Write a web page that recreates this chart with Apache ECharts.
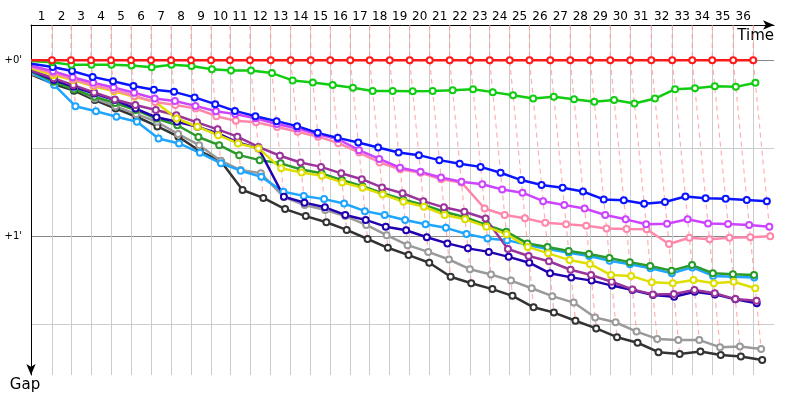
<!DOCTYPE html>
<html>
<head>
<meta charset="utf-8">
<script src="https://cdn.jsdelivr.net/npm/echarts@6/dist/echarts.min.js"></script>
<style>
  html, body { margin: 0; padding: 0; background: #fff; }
  #chart { width: 800px; height: 400px; }
</style>
</head>
<body>
<div id="chart"></div>
<script>
// leader lap times, seconds
var leaderLapTimes = [74.1, 67.1, 70.6, 70.6, 70.6, 70.6, 70.6, 70.6, 70.6, 67.1, 70.6, 73.1,
  70.6, 70.6, 69.2, 70.6, 68.5, 70.6, 70.6, 70.6, 70.6, 72.7, 68.5, 70.6,
  69.9, 73.4, 70.6, 70.6, 70.6, 70.6, 74.1, 74.1, 70.6, 70.6, 74.1, 70.6];
var lapLabels = ['1','2','3','4','5','6','7','8','9','10','11','12','13','14','15','16','17','18',
  '19','20','21','22','23','24','25','26','27','28','29','30','31','32','33','34','35','36'];
var gapTicks = [0, 30, 60, 90];
var gapLabels = [0, 60];

// gap to leader (s) per lap, index 0 = start
var gapRed = [0,0,0,0,0,0,0,0,0,0,0,0,0,0,0,0,0,0,0,0,0,0,0,0,0,0,0,0,0,0,0,0,0,0,0,0,0];
var gapGreen = [0.3,0.7,1.6,1.6,1.6,1.8,2.4,1.6,2.0,3.1,3.5,3.5,4.4,6.9,7.6,8.5,9.4,10.5,10.5,10.6,10.5,10.3,9.9,10.9,12.0,13.1,12.5,13.3,14.2,13.6,14.8,13.1,9.9,9.6,8.9,9.1,7.7];
var gapBlue = [1.2,2.3,3.7,5.7,7.2,8.8,10.1,10.8,12.7,15.0,17.3,19.1,20.8,22.5,24.8,26.5,28.1,29.8,31.5,32.4,34.1,35.3,36.4,38.4,40.9,42.6,43.5,44.8,47.5,47.8,49.0,48.4,46.5,47.1,47.3,47.7,48.1];
var gapViolet = [2.0,3.8,5.8,7.7,9.3,11.1,13.1,13.9,15.6,17.4,18.4,19.8,21.8,23.3,25.3,26.9,30.7,33.7,36.7,38.1,40.0,41.5,42.3,44.1,45.2,48.1,49.4,50.6,52.8,54.3,56.0,55.8,54.3,55.7,55.9,56.2,56.8];
var gapPink = [2.4,4.4,6.5,8.6,10.2,12.2,14.3,15.3,16.5,19.1,20.7,21.2,22.8,24.4,26.1,28.3,31.5,34.9,37.2,38.4,40.6,41.7,50.6,52.8,53.9,55.5,56.0,56.5,57.4,57.6,57.7,62.7,60.6,61.1,60.6,60.4,60.1];
var gapYellow = [2.9,5.1,6.8,8.9,10.6,12.5,14.2,19.9,22.7,25.6,28.4,30.1,36.9,38.3,39.4,41.7,43.5,45.8,48.3,50.0,52.8,54.3,56.8,59.4,63.7,65.9,68.2,69.5,73.3,73.6,75.8,76.1,75.0,76.1,75.6,77.8];
var gapPurple = [3.6,6.2,8.5,11.0,13.4,15.3,17.0,18.8,21.2,23.6,26.1,29.6,32.6,34.9,36.4,38.6,40.6,43.4,45.4,48.1,50.2,51.7,54.0,64.4,66.8,68.6,71.5,73.3,75.6,78.2,79.9,79.8,78.4,79.5,81.5,82.1];
var gapIndigo = [3.7,6.8,9.1,11.4,13.6,16.5,19.5,21.0,22.7,25.0,28.1,30.1,46.6,48.6,50.2,52.8,54.5,56.8,58.0,60.4,62.5,64.2,65.4,67.1,69.1,72.7,74.1,75.2,76.9,78.4,80.1,80.7,79.0,79.9,81.6,82.9];
var gapDarkGreen = [3.9,7.4,10.0,12.5,14.6,17.0,19.9,22.2,26.2,29.0,32.4,34.1,35.2,37.3,38.6,40.9,43.0,45.4,47.5,49.4,51.7,53.6,56.2,58.5,62.5,63.7,65.1,66.1,67.5,68.9,70.2,71.8,69.9,72.7,73.0,73.3];
var gapCyan = [4.3,8.5,15.7,17.4,19.3,21.0,26.7,28.4,31.6,35.2,37.7,39.8,44.9,46.3,47.4,48.9,51.5,52.8,54.5,56.0,57.2,59.3,60.8,61.4,63.1,64.4,65.7,66.8,68.4,69.6,71.0,72.7,70.7,73.6,73.9,74.1];
var gapGrey = [4.8,7.5,9.5,13.1,15.7,18.4,21.0,25.2,29.0,34.3,37.5,38.6,46.7,49.4,51.1,53.2,56.2,59.7,63.1,65.4,68.0,71.3,73.1,75.2,77.8,80.5,82.7,87.8,89.4,92.6,95.1,95.5,95.5,97.9,97.7,98.5];
var gapBlack = [5.1,8.2,10.4,13.6,16.5,19.3,22.6,26.1,31.0,34.4,44.3,47.0,50.8,53.2,55.3,57.9,61.0,64.0,66.5,69.1,73.9,76.1,78.1,80.4,84.3,86.1,88.9,91.5,94.5,96.4,99.6,100.2,99.4,100.6,101.1,102.3];

var drivers = [
  { gaps: gapBlack, color: '#333333' },
  { gaps: gapGrey, color: '#9a9a9a' },
  { gaps: gapCyan, color: '#1ea5ff' },
  { gaps: gapDarkGreen, color: '#2a9a2a' },
  { gaps: gapIndigo, color: '#2200b0' },
  { gaps: gapPurple, color: '#9a349a' },
  { gaps: gapYellow, color: '#dede00' },
  { gaps: gapPink, color: '#ff88aa' },
  { gaps: gapViolet, color: '#cc44ff' },
  { gaps: gapBlue, color: '#0a14ff' },
  { gaps: gapGreen, color: '#11cc11' },
  { gaps: gapRed, color: '#ff1a1a' }
];

var yMin = -12, yMax = 107.4, xMax = 2623;

// time at which the leader completes each lap
var lapEnd = [0];
leaderLapTimes.forEach(function (t, i) { lapEnd.push(lapEnd[i] + t); });
var lapMid = lapLabels.map(function (l, i) { return (lapEnd[i] + lapEnd[i + 1]) / 2; });

var series = [];

// dashed lines joining the same lap of every car
for (var n = 1; n < lapEnd.length; n++) {
  var pts = [];
  drivers.forEach(function (d) { if (d.gaps.length > n) pts.push(d.gaps[n]); });
  pts.sort(function (a, b) { return a - b; });
  var data = [[lapEnd[n], yMin]];
  pts.forEach(function (g) { data.push([lapEnd[n] + g, g]); });
  series.push({
    type: 'line', silent: true, symbol: 'none', z: 1, data: data,
    lineStyle: { color: 'rgba(255,150,150,0.75)', width: 1.2, type: [5, 4] }
  });
}

drivers.forEach(function (d) {
  series.push({
    type: 'line', z: 3, symbol: 'emptyCircle', symbolSize: 6,
    lineStyle: { color: d.color, width: 2.5 },
    itemStyle: { color: d.color, borderWidth: 1.4 },
    data: d.gaps.map(function (g, i) {
      var p = [lapEnd[i] + g, g];
      return i === 0 ? { value: p, symbol: 'none' } : p;
    })
  });
});

var chart = echarts.init(document.getElementById('chart'));
chart.setOption({
  animation: false,
  textStyle: { fontFamily: 'DejaVu Sans' },
  grid: { left: 31, top: 25, width: 743, height: 350, containLabel: false },
  xAxis: {
    type: 'value', position: 'top', min: 0, max: xMax,
    name: 'Time', nameLocation: 'end', nameGap: 0,
    nameTextStyle: { align: 'right', verticalAlign: 'top', padding: [4, 0, 0, 0], fontSize: 15, color: '#000' },
    axisLine: { onZero: false, symbol: ['none', 'arrow'], symbolSize: [7, 11], lineStyle: { color: '#000', width: 1 } },
    axisTick: { show: false, customValues: lapEnd.slice(1) },
    axisLabel: {
      customValues: lapMid, margin: 2, fontSize: 12, color: '#000',
      formatter: function (v) {
        var best = 0;
        lapMid.forEach(function (m, i) { if (Math.abs(m - v) < Math.abs(lapMid[best] - v)) best = i; });
        return lapLabels[best];
      }
    },
    splitLine: { show: true, lineStyle: { color: '#cccccc', width: 1 } }
  },
  yAxis: {
    type: 'value', inverse: true, min: yMin, max: yMax,
    name: 'Gap', nameLocation: 'end', nameGap: 3,
    nameTextStyle: { align: 'center', verticalAlign: 'top', padding: [0, 12, 0, 0], fontSize: 15, color: '#000' },
    axisLine: { show: true, onZero: false, symbol: ['arrow', 'none'], symbolSize: [7, 11], lineStyle: { color: '#000', width: 1 } },
    axisTick: { show: false, customValues: gapTicks },
    axisLabel: {
      customValues: gapLabels, margin: 9, fontSize: 10, color: '#000',
      formatter: function (v) { return '+' + Math.round(v / 60) + "'"; }
    },
    splitLine: { show: true, lineStyle: { color: ['#888888', '#cccccc'], width: 1 } }
  },
  series: series
});
</script>
</body>
</html>
